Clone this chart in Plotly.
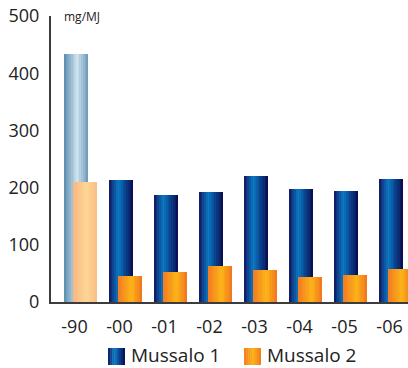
import plotly.graph_objects as go

# Emissions per unit of fuel energy, mg/MJ
years = ["-90", "-00", "-01", "-02", "-03", "-04", "-05", "-06"]
mussalo1 = [434, 213, 187, 192, 220, 197, 194, 215]
mussalo2 = [209, 45, 52, 63, 56, 44, 47, 58]
y_ticks = [0, 100, 200, 300, 400, 500]
unit_label = "mg/MJ"


def hex_to_rgb(h):
    h = h.lstrip("#")
    return tuple(int(h[i:i + 2], 16) for i in (0, 2, 4))


def gradient(stops, t):
    """Linear colour interpolation along a list of (position, hex) stops."""
    for (p0, c0), (p1, c1) in zip(stops, stops[1:]):
        if p0 <= t <= p1:
            f = (t - p0) / (p1 - p0) if p1 > p0 else 0
            a, b = hex_to_rgb(c0), hex_to_rgb(c1)
            r = [round(a[i] + (b[i] - a[i]) * f) for i in range(3)]
            return "rgb(%d,%d,%d)" % tuple(r)
    return stops[-1][1]


# Cylinder-like horizontal shading for each bar style
blue = [(0, "#14145e"), (0.38, "#0a7cc6"), (0.7, "#0a3f8a"), (1, "#0a0a4e")]
blue_old = [(0, "#5a8cae"), (0.55, "#d2e5ef"), (1, "#6a98b8")]
orange = [(0, "#f47a22"), (0.55, "#fbb418"), (1, "#f27420")]
orange_old = [(0, "#f9b683"), (0.55, "#fdd692"), (1, "#f9bd86")]

N = 14
BAR_W = 0.535
OFF1 = -0.235
OFF2 = -0.03

fig = go.Figure()
xs = list(range(len(years)))

for values, off, grad_main, grad_first in [
    (mussalo1, OFF1, blue, blue_old),
    (mussalo2, OFF2, orange, orange_old),
]:
    sw = BAR_W / N
    for k in range(N):
        t = (k + 0.5) / N
        colors = [gradient(grad_first, t)] + [gradient(grad_main, t)] * (len(years) - 1)
        fig.add_trace(go.Bar(
            x=xs, y=values,
            offset=off + k * sw, width=sw * 1.2 if k < N - 1 else sw,
            marker=dict(color=colors, line=dict(width=0)),
            showlegend=False, hoverinfo="skip",
        ))

fig.update_layout(
    width=408, height=368,
    margin=dict(l=51, r=0, t=16, b=66),
    paper_bgcolor="white", plot_bgcolor="white",
    barmode="overlay", bargap=0,
    font=dict(family="Open Sans", size=18, color="#222222"),
    showlegend=False,
)
fig.update_xaxes(
    range=[-0.522, 7.41], tickvals=xs, ticktext=years,
    showline=True, linecolor="#3c3c3c", linewidth=2,
    showgrid=False, zeroline=False, ticks="", ticklabelstandoff=7,
)
fig.update_yaxes(
    range=[0, 500], tickvals=y_ticks,
    showline=True, linecolor="#3c3c3c", linewidth=2,
    showgrid=False, zeroline=False, ticks="", ticklabelstandoff=6,
)

fig.add_annotation(
    text=unit_label, xref="paper", yref="paper", x=0.03, y=1.0,
    xanchor="left", yanchor="middle", showarrow=False,
    font=dict(size=12, color="#222222"),
)

# Legend with shaded swatches
legend_items = [("Mussalo 1", blue, 108), ("Mussalo 2", orange, 244)]
sw_px = 17
for name, grad, x0 in legend_items:
    M = 8
    for k in range(M):
        t = (k + 0.5) / M
        fig.add_shape(
            type="rect", xref="paper", yref="paper",
            x0=(x0 + k * sw_px / M - 51) / 357,
            x1=(x0 + (k + 1.2) * sw_px / M - 51) / 357 if k < M - 1 else (x0 + sw_px - 51) / 357,
            y0=(302 - 365) / 286, y1=(302 - 348) / 286,
            fillcolor=gradient(grad, t), line=dict(width=0), layer="above",
        )
    fig.add_annotation(
        text=name, xref="paper", yref="paper",
        x=(x0 + sw_px + 5 - 51) / 357, y=(302 - 355) / 286,
        xanchor="left", yanchor="middle", showarrow=False,
        width=96, height=24, align="left", valign="middle", borderpad=0,
        font=dict(size=19, color="#222222"),
    )

fig.write_html("out.html")
